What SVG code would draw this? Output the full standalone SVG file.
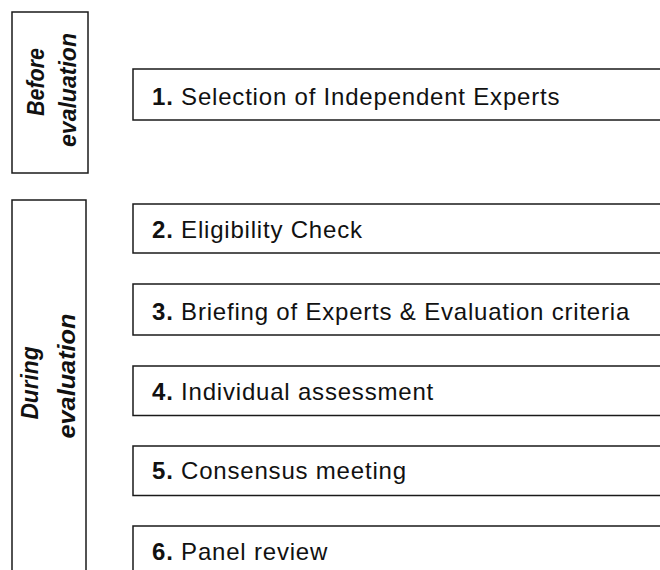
<svg xmlns="http://www.w3.org/2000/svg" width="660" height="570" viewBox="0 0 660 570">
<style>
.box{fill:#fff;stroke:#1a1a1a;stroke-width:1.5}
.t{font-family:"Liberation Sans",Arial,sans-serif;font-size:24px;letter-spacing:0.8px;fill:#111}
.n{font-weight:bold}
.v{font-family:"Liberation Sans",Arial,sans-serif;font-size:23px;font-weight:bold;font-style:italic;fill:#111;text-anchor:middle}
</style>
<rect width="660" height="570" fill="#fff"/>
<g id="phase-before">
<rect class="box" x="12" y="12" width="76" height="161"/>
<g transform="translate(50,88) rotate(-90)">
<text class="v" x="6" y="-6" textLength="68" lengthAdjust="spacingAndGlyphs">Before</text>
<text class="v" x="-2" y="26" textLength="114" lengthAdjust="spacingAndGlyphs">evaluation</text>
</g>
</g>
<g id="phase-during">
<rect class="box" x="12" y="200" width="74" height="390"/>
<g transform="translate(49,380) rotate(-90)">
<text class="v" x="-3" y="-11" textLength="73" lengthAdjust="spacingAndGlyphs">During</text>
<text class="v" x="4" y="26" textLength="125" lengthAdjust="spacingAndGlyphs">evaluation</text>
</g>
</g>
<g id="step1">
<rect class="box" x="133" y="69" width="540" height="51"/>
<text class="t" x="152" y="105"><tspan class="n">1.</tspan> Selection of Independent Experts</text>
</g>
<g id="step2">
<rect class="box" x="133" y="204" width="540" height="49"/>
<text class="t" x="152" y="237.5"><tspan class="n">2.</tspan> Eligibility Check</text>
</g>
<g id="step3">
<rect class="box" x="133" y="284" width="540" height="51"/>
<text class="t" x="152" y="320"><tspan class="n">3.</tspan> Briefing of Experts &amp; Evaluation criteria</text>
</g>
<g id="step4">
<rect class="box" x="133" y="366" width="540" height="49.5"/>
<text class="t" x="152" y="399.5"><tspan class="n">4.</tspan> Individual assessment</text>
</g>
<g id="step5">
<rect class="box" x="133" y="446" width="540" height="49.5"/>
<text class="t" x="152" y="479"><tspan class="n">5.</tspan> Consensus meeting</text>
</g>
<g id="step6">
<rect class="box" x="133" y="526" width="540" height="60"/>
<text class="t" x="152" y="560"><tspan class="n">6.</tspan> Panel review</text>
</g>
<g id="connectors"/>
</svg>
